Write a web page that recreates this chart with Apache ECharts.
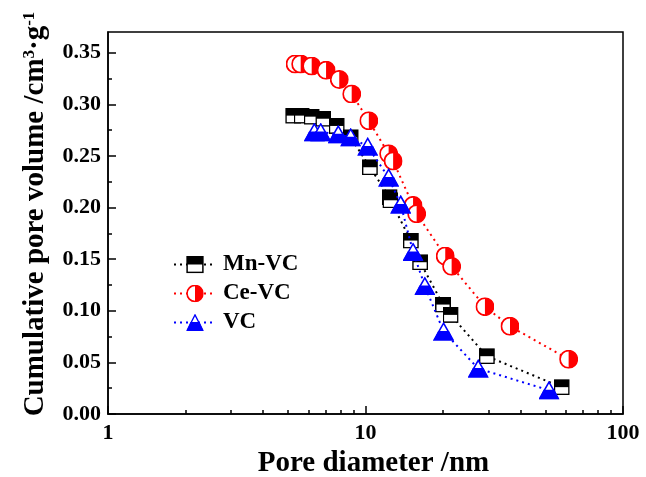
<!DOCTYPE html>
<html>
<head>
    <meta charset="utf-8"/>
    <script src="https://cdn.jsdelivr.net/npm/echarts@6/dist/echarts.min.js"></script>
    <style>
        html, body { margin: 0; padding: 0; background: #fff; }
        #chart { width: 646px; height: 477px; }
    </style>
</head>
<body>
<div id="chart"></div>
<script>
    // 数据: 孔径 (nm) 与累计孔容 (cm3/g)
    var mnX = [5.24, 5.65, 6.18, 6.86, 7.73, 8.76, 10.4, 12.4, 12.5, 15.0, 16.3, 20.0, 21.4, 29.6, 57.8];
    var mnY = [0.289, 0.289, 0.288, 0.286, 0.279, 0.268, 0.239, 0.210, 0.207, 0.168, 0.147, 0.106, 0.096, 0.056, 0.026];

    var ceX = [5.33, 5.60, 6.18, 7.03, 7.91, 8.84, 10.3, 12.3, 12.8, 15.3, 15.8, 20.4, 21.6, 29.1, 36.4, 61.5];
    var ceY = [0.339, 0.339, 0.337, 0.333, 0.324, 0.310, 0.284, 0.252, 0.245, 0.202, 0.194, 0.153, 0.143, 0.104, 0.085, 0.053];

    var vcX = [6.33, 6.70, 7.84, 8.76, 10.2, 12.3, 13.7, 15.3, 17.0, 20.1, 27.4, 51.6];
    var vcY = [0.273, 0.273, 0.271, 0.268, 0.259, 0.229, 0.203, 0.157, 0.124, 0.080, 0.044, 0.023];

    // 刻度
    var xMajor = [1, 10, 100];
    var xMinor = [2, 3, 4, 5, 6, 7, 8, 9, 20, 30, 40, 50, 60, 70, 80, 90];
    var yMajor = [0, 0.05, 0.10, 0.15, 0.20, 0.25, 0.30, 0.35];
    var yMinor = [0.025, 0.075, 0.125, 0.175, 0.225, 0.275, 0.325];

    var FONT = 'Liberation Serif';

    function pairs(xs, ys) {
        return xs.map(function (x, i) { return [x, ys[i]]; });
    }

    function svgSymbol(svg) {
        return 'image://data:image/svg+xml;charset=utf-8,' + encodeURIComponent(svg);
    }

    // 半填充符号
    var squareSym = svgSymbol(
        "<svg xmlns='http://www.w3.org/2000/svg' width='32' height='32' viewBox='0 0 32 32'>" +
        "<rect x='1.5' y='1.5' width='29' height='29' fill='#fff' stroke='#000' stroke-width='3'/>" +
        "<rect x='1.5' y='1.5' width='29' height='14.5' fill='#000'/></svg>");
    var circleSym = svgSymbol(
        "<svg xmlns='http://www.w3.org/2000/svg' width='32' height='32' viewBox='0 0 32 32'>" +
        "<circle cx='16' cy='16' r='14.5' fill='#fff' stroke='#f00' stroke-width='3'/>" +
        "<path d='M16,1.5 A14.5,14.5 0 0 1 16,30.5 Z' fill='#f00'/></svg>");
    var triSym = svgSymbol(
        "<svg xmlns='http://www.w3.org/2000/svg' width='40' height='36' viewBox='0 0 40 36'>" +
        "<polygon points='20,2.5 38,34 2,34' fill='#fff' stroke='#00f' stroke-width='3' stroke-linejoin='miter'/>" +
        "<polygon points='9.7,17 30.3,17 38,34 2,34' fill='#00f'/></svg>");

    var myChart = echarts.init(document.getElementById('chart'));

    var axisLineStyle = { color: '#000', width: 1.5 };
    var labelStyle = { fontFamily: FONT, fontWeight: 'bold', fontSize: 22, color: '#000' };

    var option = {
        animation: false,
        backgroundColor: '#fff',
        grid: {
            left: 108, right: 23, top: 32, bottom: 63,
            outerBoundsMode: 'none',
            show: true, borderColor: '#000', borderWidth: 1.5, backgroundColor: 'transparent'
        },
        legend: {
            orient: 'vertical',
            left: 168, top: 248,
            itemWidth: 42, itemHeight: 22, itemGap: 6,
            textStyle: { fontFamily: FONT, fontWeight: 'bold', fontSize: 23, color: '#000', padding: [0, 0, 0, 2] },
            data: ['Mn-VC', 'Ce-VC', 'VC']
        },
        xAxis: [{
            type: 'log', logBase: 10, min: 1, max: 100,
            position: 'bottom',
            axisLine: { show: true, lineStyle: axisLineStyle },
            axisTick: { show: true, inside: true, length: 8, lineStyle: axisLineStyle, customValues: xMajor },
            axisLabel: Object.assign({ margin: 8, customValues: xMajor }, labelStyle),
            splitLine: { show: false },
            minorTick: { show: false },
            name: 'Pore diameter /nm',
            nameLocation: 'middle',
            nameGap: 33,
            nameTextStyle: { fontFamily: FONT, fontWeight: 'bold', fontSize: 29, color: '#000', padding: [0, 0, 0, 16] }
        }, {
            type: 'log', logBase: 10, min: 1, max: 100,
            position: 'bottom',
            axisLine: { show: false },
            axisTick: { show: true, inside: true, length: 4, lineStyle: axisLineStyle, customValues: xMinor },
            axisLabel: { show: false },
            splitLine: { show: false }
        }],
        yAxis: [{
            type: 'value', min: 0, max: 0.37,
            position: 'left',
            axisLine: { show: true, lineStyle: axisLineStyle },
            axisTick: { show: true, inside: true, length: 8, lineStyle: axisLineStyle, customValues: yMajor },
            axisLabel: Object.assign({
                margin: 7, customValues: yMajor,
                formatter: function (v) { return v.toFixed(2); }
            }, labelStyle),
            splitLine: { show: false },
            name: 'Cumulative pore volume /cm{sup|3}·g{sup|-1}',
            nameLocation: 'middle',
            nameGap: 58,
            nameTextStyle: {
                fontFamily: FONT, fontWeight: 'bold', fontSize: 29, color: '#000',
                padding: [0, 0, 0, 18],
                rich: {
                    sup: { fontFamily: FONT, fontWeight: 'bold', fontSize: 17, color: '#000', verticalAlign: 'top' }
                }
            }
        }, {
            type: 'value', min: 0, max: 0.37,
            position: 'left',
            axisLine: { show: false },
            axisTick: { show: true, inside: true, length: 4, lineStyle: axisLineStyle, customValues: yMinor },
            axisLabel: { show: false },
            splitLine: { show: false }
        }],
        series: [{
            name: 'Mn-VC',
            type: 'line',
            data: pairs(mnX, mnY),
            symbol: squareSym,
            symbolSize: 16,
            itemStyle: { color: '#000' },
            lineStyle: { color: '#000', width: 2, type: [2, 4] },
            z: 2
        }, {
            name: 'Ce-VC',
            type: 'line',
            data: pairs(ceX, ceY),
            symbol: circleSym,
            symbolSize: 19,
            itemStyle: { color: '#f00' },
            lineStyle: { color: '#f00', width: 2, type: [2, 4] },
            z: 3
        }, {
            name: 'VC',
            type: 'line',
            data: pairs(vcX, vcY),
            symbol: triSym,
            symbolSize: [21, 19],
            itemStyle: { color: '#00f' },
            lineStyle: { color: '#00f', width: 2, type: [2, 4] },
            z: 4
        }]
    };

    myChart.setOption(option);

    window.onresize = function () {
        myChart.resize();
    };
</script>
</body>
</html>
